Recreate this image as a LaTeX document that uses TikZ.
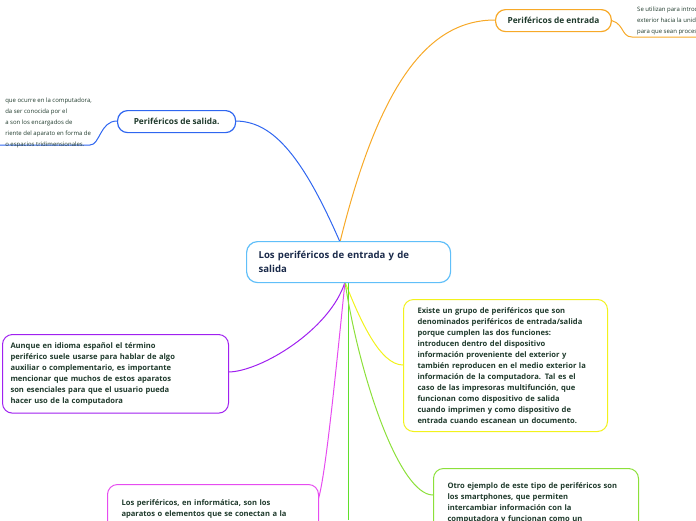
\documentclass[tikz,border=0pt]{standalone}
\usepackage{fontspec}
\setmainfont{Open Sans}
\definecolor{txt}{HTML}{1F3A2C}
\definecolor{cor}{HTML}{F7A928}
\definecolor{cbl}{HTML}{2F66F0}
\definecolor{cpu}{HTML}{A020F0}
\definecolor{cye}{HTML}{F2F21C}
\definecolor{cgr}{HTML}{8CE03A}
\definecolor{cmg}{HTML}{E64CF0}
\definecolor{cvg}{HTML}{5FE02A}
\definecolor{ctitle}{HTML}{1A2A4A}
\begin{document}
\begin{tikzpicture}[x=1pt,y=-1pt,
  box/.style={draw=#1,line width=1pt,rounded corners=10pt,fill=white,text=txt,font=\fontsize{7.6}{11}\selectfont\bfseries,align=left,inner xsep=14pt,inner ysep=8pt,anchor=north west},
  tbox/.style={draw=#1,line width=1.2pt,rounded corners=10pt,fill=white,text=txt,font=\fontsize{8.3}{10}\selectfont\bfseries,minimum height=22pt,anchor=north west,inner xsep=12pt},
  side/.style={text=txt,font=\fontsize{6}{11}\selectfont,align=left,anchor=north west,inner sep=0pt},
  con/.style={line width=1pt,draw=#1}]
\useasboundingbox (0,0) rectangle (696,520);
\clip (0,0) rectangle (696,520);
% connectors
\coordinate (c1) at (340,242);
\coordinate (c2) at (345,282);
\draw[con=cor] (c1) .. controls (380,80) and (430,20) .. (495,20);
\draw[con=cbl] (c1) .. controls (300,150) and (270,121) .. (235,121);
\draw[con=cpu] (c2) .. controls (330,330) and (260,372) .. (228,372);
\draw[con=cye] (c2) .. controls (360,320) and (380,365) .. (403,365);
\draw[con=cvg] (348,282) -- (348,520);
\draw[con=cmg] (c2) .. controls (335,380) and (325,480) .. (318,500);
\draw[con=cgr] (c2) .. controls (360,380) and (400,495) .. (433,495);
\draw[con=cor] (606,20) .. controls (625,20) and (620,37) .. (632,37) -- (696,37);
\draw[con=cbl] (117,121) .. controls (100,121) and (100,145) .. (90,145) -- (0,145);
% nodes
\node[draw=cbl!60!cyan!70,line width=1.2pt,rounded corners=11pt,fill=white,text=ctitle,font=\fontsize{9.6}{14}\selectfont\bfseries,align=left,anchor=north west,minimum width=204pt,minimum height=41pt,text width=180pt,inner xsep=12pt] (central) at (246,241) {Los periféricos de entrada y de\\salida};
\node[tbox=cor,minimum width=111pt] (ent) at (495,9) {Periféricos de entrada};
\node[tbox=cbl,minimum width=118pt] (sal) at (117,110) {Periféricos de salida.};
\node[side] (enttxt) at (637,7) {Se utilizan para introducir información desde el\\exterior hacia la unidad central de procesamiento\\para que sean procesados};
\node[side,anchor=north east] (saltxt) at (92,98) {que ocurre en la computadora,\\da ser conocida por el\\a son los encargados de\\riente del aparato en forma de\\o espacios tridimensionales.};
\node[box=cpu,inner xsep=8pt,text width=210pt,minimum height=76pt] (aun) at (2,334) {Aunque en idioma español el término\\periférico suele usarse para hablar de algo\\auxiliar o complementario, es importante\\mencionar que muchos de estos aparatos\\son esenciales para que el usuario pueda\\hacer uso de la computadora};
\node[box=cye,text width=176pt,minimum height=132pt] (exi) at (403,299) {Existe un grupo de periféricos que son\\denominados periféricos de entrada/salida\\porque cumplen las dos funciones:\\introducen dentro del dispositivo\\información proveniente del exterior y\\también reproducen en el medio exterior la\\información de la computadora. Tal es el\\caso de las impresoras multifunción, que\\funcionan como dispositivo de salida\\cuando imprimen y como dispositivo de\\entrada cuando escanean un documento.};
\node[box=cgr,text width=177pt,minimum height=80pt] (otro) at (433,468) {Otro ejemplo de este tipo de periféricos son\\los smartphones, que permiten\\intercambiar información con la\\computadora y funcionan como un\\dispositivo de entrada y salida.};
\node[box=cmg,text width=183pt,inner ysep=5pt,minimum height=70pt] (los) at (107,484) {Los periféricos, en informática, son los\\aparatos o elementos que se conectan a la\\unidad central de procesamiento (CPU) de\\una computadora.};
\end{tikzpicture}
\end{document}
